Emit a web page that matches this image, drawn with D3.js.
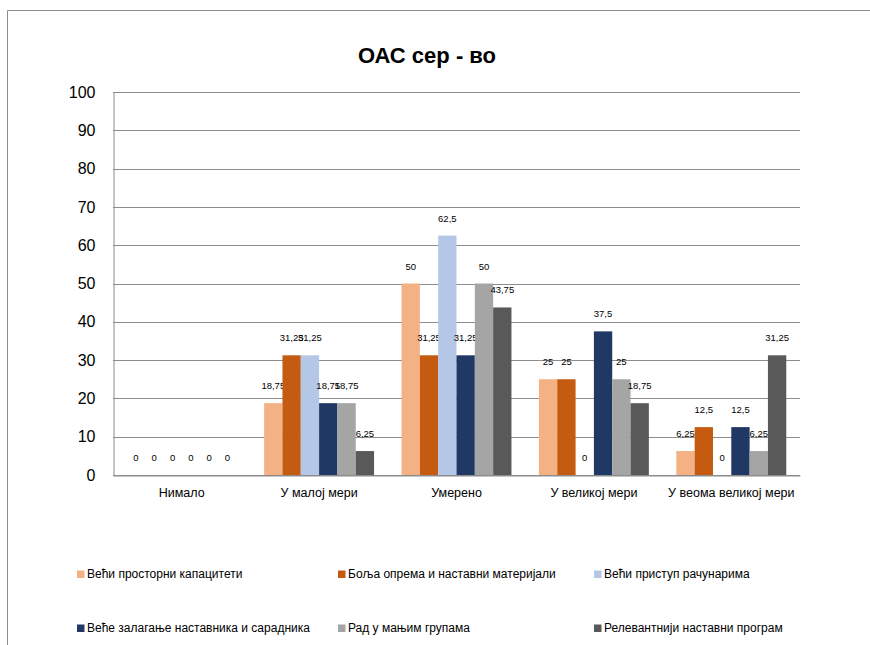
<!DOCTYPE html>
<html>
<head>
<meta charset="utf-8">
<script src="https://cdn.jsdelivr.net/npm/d3@7"></script>
<style>
  html, body { margin: 0; padding: 0; background: #fff; }
  svg { display: block; font-family: "Liberation Sans", Arial, sans-serif; }
</style>
</head>
<body>
<svg id="chart" width="870" height="645"></svg>
<script>
const title = "ОАС сер - во";
const categories = ["Нимало", "У малој мери", "Умерено", "У великој мери", "У веома великој мери"];
const seriesNames = [
  "Већи просторни капацитети",
  "Боља опрема и наставни материјали",
  "Већи приступ рачунарима",
  "Веће залагање наставника и сарадника",
  "Рад у мањим групама",
  "Релевантнији наставни програм"
];
const seriesColors = ["#F4B183", "#C55A11", "#B4C7E7", "#203864", "#A5A5A5", "#595959"];
const s1 = [0, 18.75, 50, 25, 6.25];
const s2 = [0, 31.25, 31.25, 25, 12.5];
const s3 = [0, 31.25, 62.5, 0, 0];
const s4 = [0, 18.75, 31.25, 37.5, 12.5];
const s5 = [0, 18.75, 50, 25, 6.25];
const s6 = [0, 6.25, 43.75, 18.75, 31.25];
const seriesValues = [s1, s2, s3, s4, s5, s6];
const yTicks = [0, 10, 20, 30, 40, 50, 60, 70, 80, 90, 100];

const svg = d3.select("#chart");
const gridColor = "#8c8c8c";

// frame
svg.append("line").attr("x1", 7.5).attr("x2", 870).attr("y1", 10.5).attr("y2", 10.5)
  .attr("stroke", "#8c8c8c").attr("stroke-width", 1);
svg.append("line").attr("x1", 7.5).attr("x2", 7.5).attr("y1", 10.5).attr("y2", 645)
  .attr("stroke", "#8c8c8c").attr("stroke-width", 1);

// title
svg.append("text").attr("x", 427).attr("y", 63).attr("text-anchor", "middle")
  .attr("font-size", 22).attr("font-weight", "bold").attr("fill", "#000").text(title);

const plot = { left: 113, right: 800, top: 92, bottom: 475 };
const y = d3.scaleLinear().domain([0, 100]).range([plot.bottom, plot.top]);
const x0 = d3.scaleBand().domain(categories).range([plot.left, plot.right]).padding(0);
const gw = x0.bandwidth();
const x1 = d3.scaleBand().domain(d3.range(seriesNames.length)).range([gw / 10, gw - gw / 10]).padding(0);

// gridlines
svg.append("g").selectAll("line").data(yTicks).join("line")
  .attr("x1", plot.left).attr("x2", plot.right)
  .attr("y1", d => Math.round(y(d)) + 0.5).attr("y2", d => Math.round(y(d)) + 0.5)
  .attr("stroke", gridColor).attr("stroke-width", 1);

// y axis
const yAxis = d3.axisLeft(y).tickValues(yTicks).tickSize(0).tickPadding(18);
const gy = svg.append("g").attr("transform", `translate(${plot.left + 0.5},0)`).call(yAxis);
gy.select(".domain").attr("stroke", gridColor);
gy.selectAll("text").attr("font-size", 16).attr("fill", "#000")
  .attr("font-family", "'Liberation Sans', Arial, sans-serif");

// x axis
const xAxis = d3.axisBottom(x0).tickSize(0).tickPadding(13);
const gx = svg.append("g").attr("transform", `translate(0,${Math.round(plot.bottom) + 0.5})`).call(xAxis);
gx.select(".domain").attr("stroke", gridColor);
gx.selectAll("text").attr("font-size", 12.5).attr("fill", "#000")
  .attr("font-family", "'Liberation Sans', Arial, sans-serif");

// bars
const fmt = v => String(v).replace(".", ",");
seriesValues.forEach((vals, si) => {
  const g = svg.append("g");
  g.selectAll("rect").data(vals).join("rect")
    .attr("x", (d, i) => x0(categories[i]) + x1(si))
    .attr("width", x1.bandwidth())
    .attr("y", d => y(d))
    .attr("height", d => y(0) - y(d))
    .attr("fill", seriesColors[si]);
  g.selectAll("text").data(vals).join("text")
    .attr("x", (d, i) => x0(categories[i]) + x1(si) + x1.bandwidth() / 2)
    .attr("y", d => y(d) - 14)
    .attr("text-anchor", "middle")
    .attr("font-size", 9.5).attr("fill", "#000")
    .text(d => fmt(d));
});

// legend
const legendPos = [[77, 574], [338, 574], [594, 574], [77, 628], [338, 628], [594, 628]];
seriesNames.forEach((name, i) => {
  const [lx, ly] = legendPos[i];
  svg.append("rect").attr("x", lx).attr("y", ly - 3.5).attr("width", 7.5).attr("height", 7.5)
    .attr("fill", seriesColors[i]);
  svg.append("text").attr("x", lx + 10).attr("y", ly + 4).attr("font-size", 12)
    .attr("fill", "#000").text(name);
});
</script>
</body>
</html>
